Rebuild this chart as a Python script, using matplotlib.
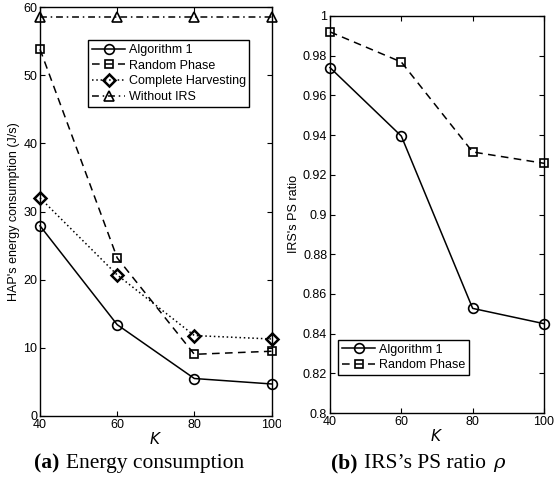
import matplotlib
matplotlib.use("Agg")
import matplotlib.pyplot as plt
from matplotlib.transforms import Bbox, TransformedBbox
from matplotlib.offsetbox import TextArea, HPacker, AnchoredOffsetbox

plt.rcParams['font.family'] = ['Liberation Sans', 'DejaVu Sans']

K = [40, 60, 80, 100]
# (a) energy consumption
alg1_energy = [27.9, 13.4, 5.5, 4.7]
random_energy = [53.8, 23.2, 9.05, 9.5]
harvest_energy = [32.0, 20.7, 11.8, 11.3]
noirs_energy = [58.5, 58.5, 58.5, 58.5]
# (b) PS ratio
alg1_ratio = [0.974, 0.9395, 0.8527, 0.845]
random_ratio = [0.992, 0.9768, 0.9315, 0.9258]

yticks_a = [0, 10, 20, 30, 40, 50, 60]
yticks_b = [0.8, 0.82, 0.84, 0.86, 0.88, 0.9, 0.92, 0.94, 0.96, 0.98, 1.0]
yticklabels_b = ['0.8', '0.82', '0.84', '0.86', '0.88', '0.9', '0.92', '0.94', '0.96', '0.98', '1']

legend_a = ['Algorithm 1', 'Random Phase', 'Complete Harvesting', 'Without IRS']
legend_b = ['Algorithm 1', 'Random Phase']
caption_a = 'Energy consumption'
caption_b = 'IRS\u2019s PS ratio'

W, H = 555, 487
fig = plt.figure(figsize=(W / 100, H / 100), dpi=100)

def px_axes(x0, y0, x1, y1):
    return fig.add_axes([x0 / W, 1 - y1 / H, (x1 - x0) / W, (y1 - y0) / H])

ax1 = px_axes(40, 7, 271.5, 416)
ax2 = px_axes(330, 16, 544, 413)

lw = 1.1
mk = dict(markerfacecolor='none', markeredgecolor='k', markeredgewidth=1.2)
dashed = (0, (5, 3.5))
dotted = (0, (1, 1.8))
dashdot = (0, (4.5, 2.5, 1, 2.5))

ax1.plot(K, alg1_energy, '-', color='k', lw=lw, marker='o', ms=7, **mk, label=legend_a[0], clip_on=False)
ax1.plot(K, random_energy, color='k', lw=lw, ls=dashed, marker='s', ms=5.5, **mk, label=legend_a[1], clip_on=False)
ax1.plot(K, harvest_energy, color='k', lw=lw, ls=dotted, marker='D', ms=6, markeredgewidth=1.8,
         markerfacecolor='none', markeredgecolor='k', label=legend_a[2], clip_on=False)
ax1.plot(K, noirs_energy, color='k', lw=lw, ls=dashdot, marker='^', ms=7, **mk, label=legend_a[3], clip_on=False)

ax2.plot(K, alg1_ratio, '-', color='k', lw=lw, marker='o', ms=7, **mk, label=legend_b[0], clip_on=False)
ax2.plot(K, random_ratio, color='k', lw=lw, ls=dashed, marker='s', ms=5.5, **mk, label=legend_b[1], clip_on=False)

ax1.set_xlim(40, 100)
ax1.set_ylim(0, 60)
ax1.set_xticks(K)
ax1.set_yticks(yticks_a)
ax2.set_xlim(40, 100)
ax2.set_ylim(0.8, 1.0)
ax2.set_xticks(K)
ax2.set_yticks(yticks_b)
ax2.set_yticklabels(yticklabels_b)

for ax in (ax1, ax2):
    ax.tick_params(direction='in', top=True, right=True, length=3.5, width=0.8,
                   labelsize=9, pad=2, colors='k')
    for s in ax.spines.values():
        s.set_linewidth(1.0)
    ax.set_xlabel('$K$', fontsize=11, labelpad=0)

ax1.set_ylabel("HAP's energy consumption (J/s)", fontsize=9, labelpad=2)
ax2.set_ylabel("IRS's PS ratio", fontsize=9, labelpad=2)

leg_kw = dict(fancybox=False, edgecolor='k', framealpha=1, fontsize=9,
              handlelength=2.7, handletextpad=0.25, borderaxespad=0, borderpad=0.3,
              labelspacing=0.3)
l1 = ax1.legend(loc='upper left', bbox_to_anchor=(0.207, 0.919), **leg_kw)
l1.get_frame().set_linewidth(1.0)
l2 = ax2.legend(loc='upper left', bbox_to_anchor=(0.037, 0.184), **leg_kw)
l2.get_frame().set_linewidth(1.0)

def caption(xc, yc, tag, body, extra=None):
    parts = [TextArea(tag, textprops=dict(family='Liberation Serif', weight='bold', size=15.5)),
             TextArea(body, textprops=dict(family='Liberation Serif', size=15.5))]
    if extra:
        parts.append(TextArea(extra, textprops=dict(family='DejaVu Serif', style='italic', size=14)))
    box = HPacker(children=parts, align='baseline', pad=0, sep=5)
    ab = AnchoredOffsetbox(loc='center', child=box, frameon=False,
                           bbox_to_anchor=(xc / W, 1 - yc / H), bbox_transform=fig.transFigure,
                           borderpad=0, pad=0)
    fig.add_artist(ab)

caption(139, 463, '(a)', caption_a)
caption(418, 463, '(b)', caption_b, '\u03c1')

# the left panel's last x tick label is cut by the right panel in the reference
fig.canvas.draw()
clip = TransformedBbox(Bbox([[0, 0], [281 / W, 1]]), fig.transFigure)
for t in ax1.get_xticklabels():
    if t.get_text() == '100':
        t.set_clip_box(clip)
        t.set_clip_on(True)

fig.savefig('out.png', dpi=100)
